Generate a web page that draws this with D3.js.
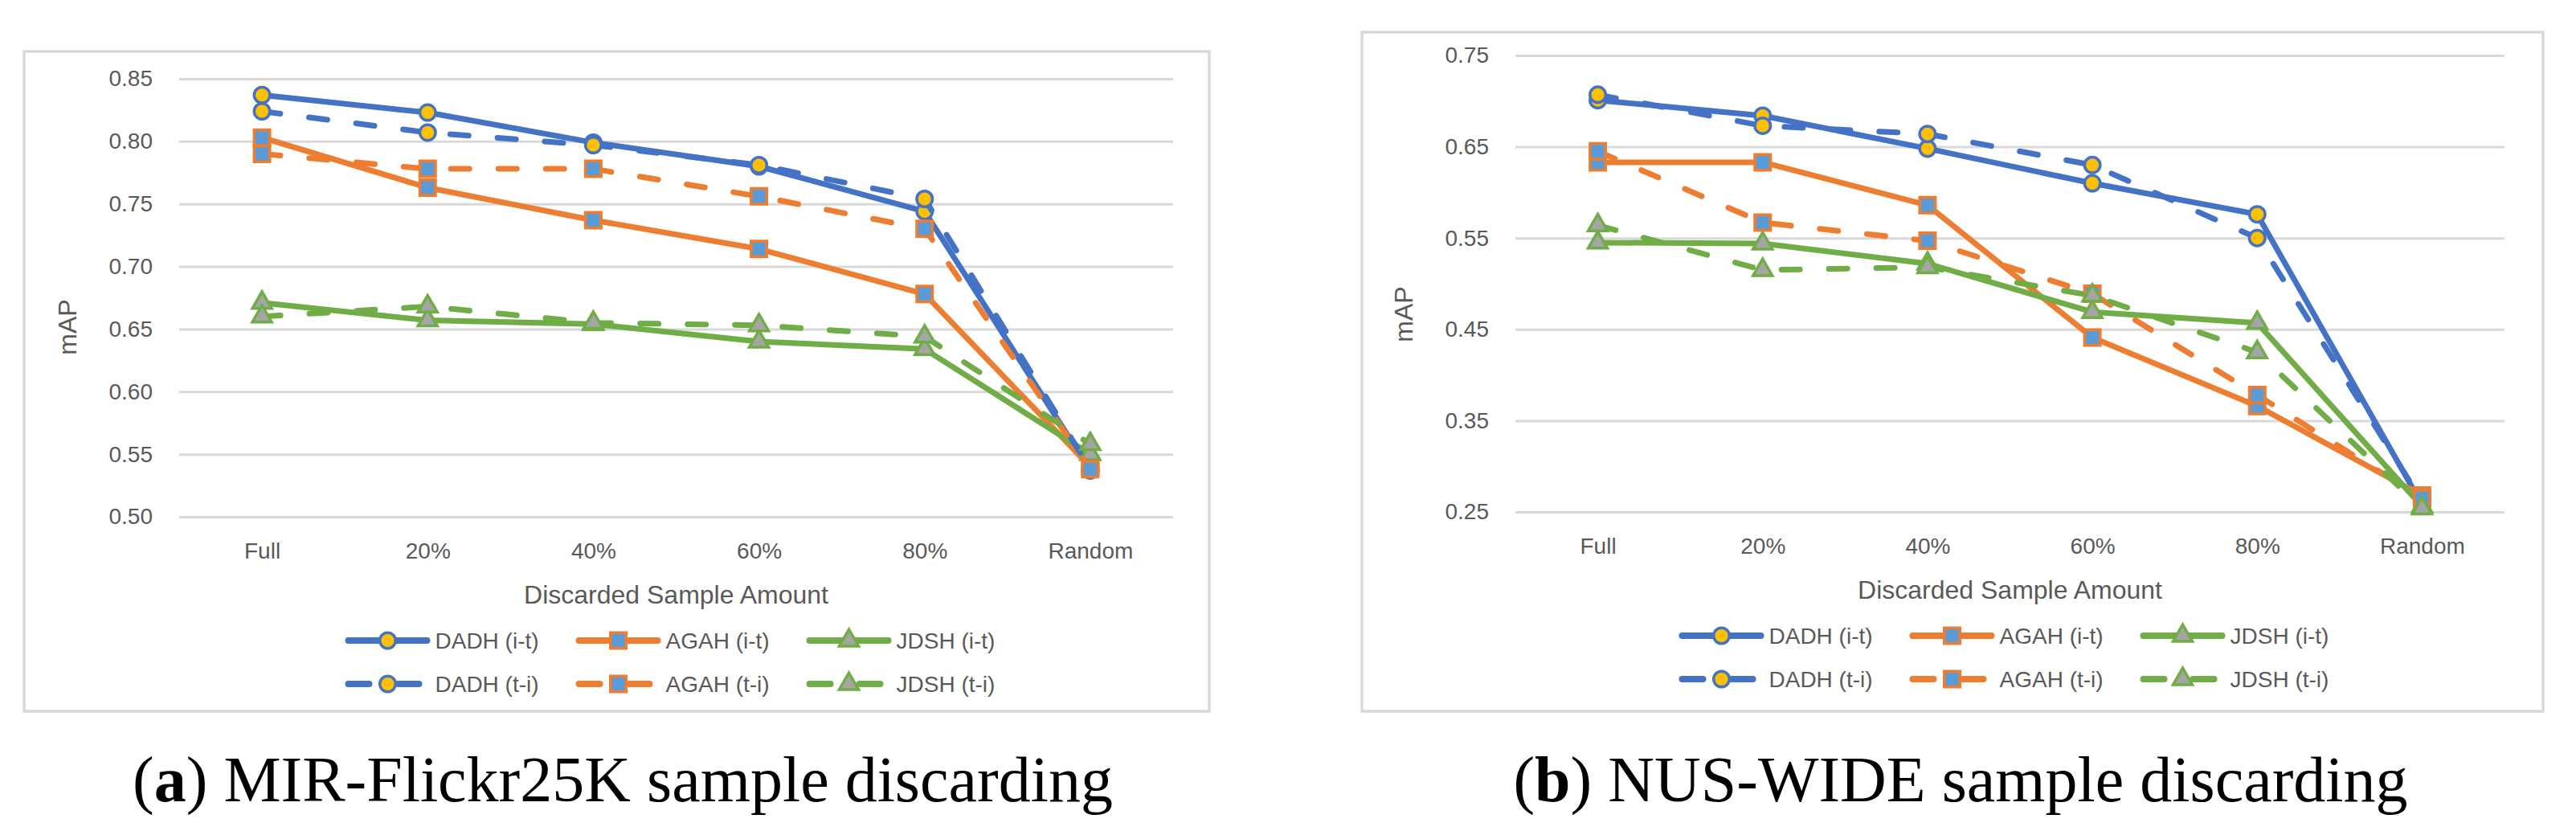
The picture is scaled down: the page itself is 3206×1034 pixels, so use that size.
<!DOCTYPE html>
<html>
<head>
<meta charset="utf-8">
<script src="https://cdn.jsdelivr.net/npm/d3@7"></script>
<style>
  html, body { margin: 0; padding: 0; background: #fff; }
  svg { display: block; }
</style>
</head>
<body>
<div id="chart"></div>
<script>
(function() {
  // categories and series
  var categories = ["Full", "20%", "40%", "60%", "80%", "Random"];
  var seriesNames = ["DADH (i-t)", "AGAH (i-t)", "JDSH (i-t)", "DADH (t-i)", "AGAH (t-i)", "JDSH (t-i)"];

  // (a) MIR-Flickr25K
  var mirDadhIT = [0.837, 0.823, 0.799, 0.780, 0.744, 0.537];
  var mirAgahIT = [0.803, 0.763, 0.737, 0.714, 0.678, 0.540];
  var mirJdshIT = [0.671, 0.657, 0.654, 0.640, 0.634, 0.550];
  var mirDadhTI = [0.824, 0.807, 0.797, 0.781, 0.754, 0.538];
  var mirAgahTI = [0.790, 0.778, 0.778, 0.756, 0.730, 0.538];
  var mirJdshTI = [0.660, 0.668, 0.655, 0.653, 0.644, 0.558];
  var mirTicks = [0.50, 0.55, 0.60, 0.65, 0.70, 0.75, 0.80, 0.85];

  // (b) NUS-WIDE
  var nusDadhIT = [0.701, 0.684, 0.648, 0.610, 0.576, 0.258];
  var nusAgahIT = [0.633, 0.633, 0.586, 0.441, 0.366, 0.268];
  var nusJdshIT = [0.545, 0.544, 0.522, 0.469, 0.457, 0.256];
  var nusDadhTI = [0.707, 0.673, 0.664, 0.630, 0.550, 0.262];
  var nusAgahTI = [0.645, 0.567, 0.547, 0.489, 0.378, 0.265];
  var nusJdshTI = [0.564, 0.515, 0.518, 0.487, 0.425, 0.254];
  var nusTicks = [0.25, 0.35, 0.45, 0.55, 0.65, 0.75];

  var captions = [["a", "MIR-Flickr25K sample discarding"], ["b", "NUS-WIDE sample discarding"]];

  var width = 3206;
  var height = 1034;
  var textColor = "#595959";
  var gridColor = "#d9d9d9";
  var font = "'Liberation Sans', Arial, sans-serif";

  // line colour, marker fill, marker shape
  var styles = [
    {line: "#4472c4", fill: "#ffc000", shape: d3.symbolCircle, size: 300},
    {line: "#ed7d31", fill: "#5b9bd5", shape: d3.symbolSquare, size: 380},
    {line: "#70ad47", fill: "#a5a5a5", shape: d3.symbolTriangle, size: 250}
  ];

  var svg = d3.select("#chart")
    .append("svg")
    .attr("width", width)
    .attr("height", height);

  function drawChart(cfg) {
    var g = svg.append("g");

    // outer frame
    g.append("rect")
      .attr("x", cfg.frame[0])
      .attr("y", cfg.frame[1])
      .attr("width", cfg.frame[2])
      .attr("height", cfg.frame[3])
      .attr("fill", "#fff")
      .attr("stroke", gridColor)
      .attr("stroke-width", 3.5);

    var x = d3.scalePoint()
      .domain(categories)
      .range([cfg.plot[0], cfg.plot[1]])
      .padding(0.5);
    var y = d3.scaleLinear()
      .domain(cfg.domain)
      .range([cfg.plot[3], cfg.plot[2]]);

    // gridlines + y labels
    var yAxis = d3.axisLeft(y)
      .tickValues(cfg.ticks)
      .tickFormat(d3.format(".2f"))
      .tickSize(-(cfg.plot[1] - cfg.plot[0]))
      .tickPadding(33);
    var ya = g.append("g")
      .attr("transform", "translate(" + cfg.plot[0] + ",0)")
      .call(yAxis);
    ya.select(".domain").remove();
    ya.selectAll(".tick line").attr("stroke", gridColor).attr("stroke-width", 3);
    ya.selectAll(".tick text")
      .attr("fill", textColor)
      .style("font-family", font)
      .style("font-size", "28px");

    // x labels
    var xAxis = d3.axisBottom(x).tickSize(0).tickPadding(32);
    var xa = g.append("g")
      .attr("transform", "translate(0," + cfg.plot[3] + ")")
      .call(xAxis);
    xa.select(".domain").remove();
    xa.selectAll(".tick text")
      .attr("fill", textColor)
      .style("font-family", font)
      .style("font-size", "28px");

    var cx = (cfg.plot[0] + cfg.plot[1]) / 2;
    g.append("text")
      .attr("x", cx)
      .attr("y", cfg.plot[3] + 108)
      .attr("text-anchor", "middle")
      .attr("fill", textColor)
      .style("font-family", font)
      .style("font-size", "32px")
      .text("Discarded Sample Amount");

    g.append("text")
      .attr("transform", "translate(" + cfg.yTitle[0] + "," + cfg.yTitle[1] + ") rotate(-90)")
      .attr("text-anchor", "middle")
      .attr("dy", "0.35em")
      .attr("fill", textColor)
      .style("font-family", font)
      .style("font-size", "32px")
      .text("mAP");

    var line = d3.line()
      .x(function(d, i) { return x(categories[i]); })
      .y(function(d) { return y(d); });

    cfg.series.forEach(function(values, k) {
      var st = styles[k % 3];
      var dashed = k >= 3;
      var sg = g.append("g");
      sg.append("path")
        .datum(values)
        .attr("d", line)
        .attr("fill", "none")
        .attr("stroke", st.line)
        .attr("stroke-width", 7)
        .attr("stroke-linejoin", "round")
        .attr("stroke-linecap", "round")
        .attr("stroke-dasharray", dashed ? "23,36" : null);
      sg.selectAll("path.mk")
        .data(values)
        .enter()
        .append("path")
        .attr("class", "mk")
        .attr("d", d3.symbol().type(st.shape).size(st.size))
        .attr("transform", function(d, i) {
          return "translate(" + x(categories[i]) + "," + y(d) + ")";
        })
        .attr("fill", st.fill)
        .attr("stroke", st.line)
        .attr("stroke-width", 3.5);
    });

    // legend: 3 columns, 2 rows
    var colW = 287;
    var legLeft = cx - 408;
    seriesNames.forEach(function(name, k) {
      var st = styles[k % 3];
      var col = k % 3;
      var row = Math.floor(k / 3);
      var lx = legLeft + col * colW;
      var ly = cfg.plot[3] + 154 + row * 54;
      var lg = g.append("g");
      lg.append("line")
        .attr("x1", lx).attr("x2", lx + 98)
        .attr("y1", ly).attr("y2", ly)
        .attr("stroke", st.line)
        .attr("stroke-width", 8)
        .attr("stroke-linecap", "round")
        .attr("stroke-dasharray", row === 1 ? "26,36" : null);
      lg.append("path")
        .attr("d", d3.symbol().type(st.shape).size(st.size))
        .attr("transform", "translate(" + (lx + 49) + "," + ly + ")")
        .attr("fill", st.fill)
        .attr("stroke", st.line)
        .attr("stroke-width", 3.5);
      lg.append("text")
        .attr("x", lx + 108)
        .attr("y", ly)
        .attr("dy", "0.36em")
        .attr("fill", textColor)
        .style("font-family", font)
        .style("font-size", "28px")
        .text(name);
    });

    var cap = svg.append("text")
      .attr("x", cfg.caption[0])
      .attr("y", cfg.caption[1])
      .attr("text-anchor", "middle")
      .attr("fill", "#000")
      .style("font-family", "'Liberation Serif', 'Times New Roman', serif")
      .style("font-size", "80px");
    cap.append("tspan").text("(");
    cap.append("tspan").attr("font-weight", "bold").text(cfg.label[0]);
    cap.append("tspan").text(") " + cfg.label[1]);
  }

  drawChart({
    frame: [30, 64, 1475, 821],
    plot: [223, 1460, 98, 643],
    domain: [0.50, 0.85],
    ticks: mirTicks,
    yTitle: [84, 407],
    series: [mirDadhIT, mirAgahIT, mirJdshIT, mirDadhTI, mirAgahTI, mirJdshTI],
    caption: [775, 997],
    label: captions[0]
  });

  drawChart({
    frame: [1695, 40, 1470, 845],
    plot: [1886, 3117, 69, 637],
    domain: [0.25, 0.75],
    ticks: nusTicks,
    yTitle: [1747, 391],
    series: [nusDadhIT, nusAgahIT, nusJdshIT, nusDadhTI, nusAgahTI, nusJdshTI],
    caption: [2440, 997],
    label: captions[1]
  });
})();
</script>
</body>
</html>
